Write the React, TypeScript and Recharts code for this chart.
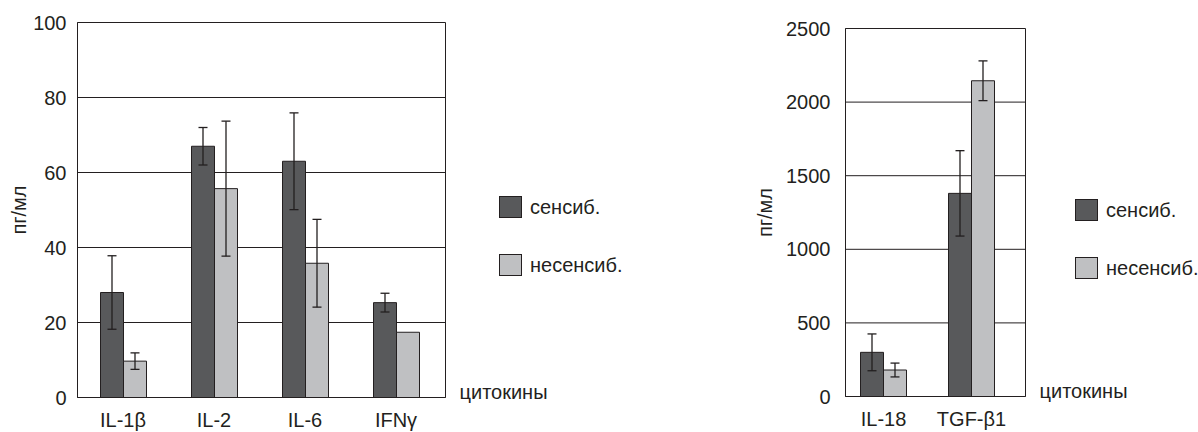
import React from 'react'
import { BarChart, Bar, XAxis, YAxis, CartesianGrid, ErrorBar, Legend } from 'recharts'

// left panel
const leftCategories = ['IL-1β', 'IL-2', 'IL-6', 'IFNγ']
const leftSens = [28, 67, 63, 25.3]
const leftSensErr = [9.8, 5, 12.9, 2.5]
const leftNonSens = [9.7, 55.7, 35.8, 17.4]
const leftNonSensErr = [2.2, 18, 11.7, 0]
const leftTicks = [0, 20, 40, 60, 80, 100]

// right panel
const rightCategories = ['IL-18', 'TGF-β1']
const rightSens = [300, 1380]
const rightSensErr = [125, 290]
const rightNonSens = [180, 2145]
const rightNonSensErr = [47, 135]
const rightTicks = [0, 500, 1000, 1500, 2000, 2500]

const seriesNames = ['сенсиб.', 'несенсиб.']
const seriesColors = ['#58595b', '#bfc0c2']

const INK = '#231f20'
const FONT = '"Liberation Sans", Arial, sans-serif'
const FS = 20

const buildRows = (cats: string[], a: number[], ae: number[], b: number[], be: number[]) =>
  cats.map((name, i) => ({ name, sens: a[i], sensErr: ae[i], non: b[i], nonErr: be[i] }))

const leftData = buildRows(leftCategories, leftSens, leftSensErr, leftNonSens, leftNonSensErr)
const rightData = buildRows(rightCategories, rightSens, rightSensErr, rightNonSens, rightNonSensErr)

const XTitle = (props: any) => {
  const { viewBox } = props
  return (
    <text x={viewBox.x + viewBox.width + 14} y={viewBox.y + 1} fill={INK} fontSize={FS} fontFamily={FONT}>
      цитокины
    </text>
  )
}

const YTitle = (props: any) => {
  const { viewBox, dx } = props
  const x = viewBox.x + dx
  const y = viewBox.y + viewBox.height / 2
  return (
    <text x={x} y={y} transform={`rotate(-90, ${x}, ${y})`} textAnchor="middle" fill={INK} fontSize={FS} fontFamily={FONT}>
      пг/мл
    </text>
  )
}

// keep the series order (the legend sorts by name otherwise)
const LegendBox = (props: any) => {
  const items = [...(props.payload || [])].sort(
    (a: any, b: any) => seriesNames.indexOf(a.value) - seriesNames.indexOf(b.value)
  )
  return (
    <div style={{ fontFamily: FONT, fontSize: FS, color: INK }}>
      {items.map((item: any, i: number) => (
        <div key={item.value} style={{ display: 'flex', alignItems: 'center', marginTop: i ? 36 : 0, height: 22 }}>
          <div style={{ width: 23, height: 22, boxSizing: 'border-box', border: `1px solid ${INK}`, background: item.color }} />
          <span style={{ marginLeft: 8, whiteSpace: 'nowrap' }}>{item.value}</span>
        </div>
      ))}
    </div>
  )
}

interface PanelProps {
  data: any[]
  ticks: number[]
  width: number
  margin: { top: number; right: number; left: number; bottom: number }
  yWidth: number
  xHeight: number
  xPadding: { left: number; right: number }
  tickGap: number
  titleDx: number
  legendPos: { left: number; top: number }
}

function Panel({ data, ticks, width, margin, yWidth, xHeight, xPadding, tickGap, titleDx, legendPos }: PanelProps) {
  return (
    <BarChart width={width} height={432} data={data} margin={margin} barGap={0} barSize={23}>
      <CartesianGrid
        stroke={INK}
        strokeWidth={1}
        verticalCoordinatesGenerator={({ offset }: any) => [offset.left, offset.left + offset.width]}
      />
      <XAxis
        dataKey="name"
        height={xHeight}
        padding={xPadding}
        axisLine={{ stroke: INK }}
        tickLine={false}
        tickSize={0}
        tickMargin={15}
        tick={{ fill: INK, fontSize: FS, fontFamily: FONT }}
        interval={0}
        label={<XTitle />}
      />
      <YAxis
        width={yWidth}
        domain={[ticks[0], ticks[ticks.length - 1]]}
        ticks={ticks}
        axisLine={{ stroke: INK }}
        tickLine={false}
        tickSize={0}
        tickMargin={tickGap}
        tick={{ fill: INK, fontSize: FS, fontFamily: FONT }}
        label={<YTitle dx={titleDx} />}
      />
      <Legend
        layout="vertical"
        align="center"
        verticalAlign="middle"
        content={<LegendBox />}
        wrapperStyle={{ left: legendPos.left, top: legendPos.top, width: 'auto' }}
      />
      <Bar dataKey="sens" name={seriesNames[0]} fill={seriesColors[0]} stroke={INK} strokeWidth={1} isAnimationActive={false}>
        <ErrorBar dataKey="sensErr" width={4.5} stroke={INK} strokeWidth={1.3} />
      </Bar>
      <Bar dataKey="non" name={seriesNames[1]} fill={seriesColors[1]} stroke={INK} strokeWidth={1} isAnimationActive={false}>
        <ErrorBar dataKey="nonErr" width={4.5} stroke={INK} strokeWidth={1.3} />
      </Bar>
    </BarChart>
  )
}

export default function App() {
  return (
    <div style={{ position: 'absolute', left: 0, top: 0, width: 1198, height: 432, background: '#fff' }}>
      <div style={{ position: 'absolute', left: 0, top: 0 }}>
        <Panel
          data={leftData}
          ticks={leftTicks}
          width={640}
          margin={{ top: 22.5, right: 194.5, left: 17.5, bottom: 0 }}
          yWidth={60}
          xHeight={34.5}
          xPadding={{ left: 0, right: 4 }}
          tickGap={11}
          titleDx={8}
          legendPos={{ left: 499, top: 196 }}
        />
      </div>
      <div style={{ position: 'absolute', left: 700, top: 0 }}>
        <Panel
          data={rightData}
          ticks={rightTicks}
          width={498}
          margin={{ top: 28.5, right: 172.5, left: 65.5, bottom: 0 }}
          yWidth={80}
          xHeight={35.5}
          xPadding={{ left: -6, right: 10 }}
          tickGap={15}
          titleDx={6}
          legendPos={{ left: 375, top: 199 }}
        />
      </div>
    </div>
  )
}
